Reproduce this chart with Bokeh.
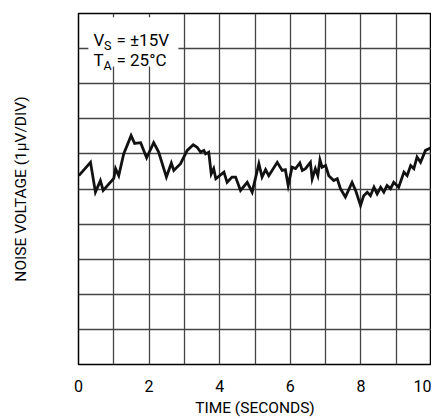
from bokeh.plotting import figure
from bokeh.models import FixedTicker, Range1d, Label
from bokeh.embed import file_html
from bokeh.resources import INLINE

# Data (seconds, microvolts relative to centre line)
time_s = [0.01, 0.34, 0.48, 0.62, 0.70, 1.00, 1.05, 1.14, 1.28, 1.49, 1.59, 1.76, 1.93,
          2.13, 2.27, 2.49, 2.63, 2.70, 2.89, 3.08, 3.25, 3.36, 3.46, 3.55, 3.60, 3.69,
          3.76, 3.83, 3.89, 4.12, 4.21, 4.35, 4.45, 4.59, 4.78, 4.92, 5.11, 5.20, 5.30,
          5.39, 5.63, 5.77, 5.86, 5.94, 6.05, 6.15, 6.27, 6.34, 6.43, 6.57, 6.62, 6.71,
          6.78, 6.84, 6.90, 7.00, 7.09, 7.23, 7.33, 7.42, 7.56, 7.75, 7.85, 7.99, 8.08,
          8.18, 8.27, 8.37, 8.46, 8.56, 8.65, 8.74, 8.84, 8.93, 9.07, 9.22, 9.31, 9.41,
          9.50, 9.59, 9.69, 9.83, 9.97]
noise_uv = [0.38, 0.76, -0.09, 0.24, -0.04, 0.30, 0.58, 0.38, 1.00, 1.52, 1.30, 1.32, 0.89,
            1.32, 1.05, 0.34, 0.74, 0.53, 0.72, 1.10, 1.26, 1.19, 1.05, 1.10, 1.00, 1.05,
            0.43, 0.58, 0.29, 0.48, 0.19, 0.34, 0.34, -0.04, 0.19, -0.09, 0.72, 0.34, 0.55,
            0.38, 0.76, 0.53, 0.55, 0.10, 0.62, 0.58, 0.74, 0.53, 0.58, 0.76, 0.29, 0.58,
            0.38, 0.83, 0.62, 0.67, 0.38, 0.24, 0.29, 0.01, -0.23, 0.19, -0.04, -0.47, -0.19,
            -0.09, -0.19, 0.05, -0.14, 0.05, -0.09, 0.10, 0.01, 0.19, 0.05, 0.48, 0.38, 0.67,
            0.58, 0.91, 0.76, 1.10, 1.17]

x_label_ticks = [0, 2, 4, 6, 8, 10]
x_grid_ticks = [0, 1, 2, 3, 4, 5, 6, 7, 8, 9, 10]
y_grid_ticks = [-5, -4, -3, -2, -1, 0, 1, 2, 3, 4, 5]

FONT = "Roboto"

p = figure(frame_width=353, frame_height=351, output_backend="svg", toolbar_location=None,
           x_range=Range1d(0, 10), y_range=Range1d(-5, 5),
           min_border_left=78, min_border_right=0, min_border_top=13, min_border_bottom=55)
p.background_fill_color = "white"
p.border_fill_color = "white"
p.outline_line_color = "black"
p.outline_line_width = 1.5
p.outline_line_alpha = 1.0

for g, t in ((p.xgrid, x_grid_ticks), (p.ygrid, y_grid_ticks)):
    g.ticker = FixedTicker(ticks=t)
    g.grid_line_color = "#444444"
    g.grid_line_width = 1.3
    g.grid_line_alpha = 1.0

xa = p.xaxis[0]
xa.ticker = FixedTicker(ticks=x_label_ticks)
xa.axis_line_color = None
xa.major_tick_line_color = None
xa.minor_tick_line_color = None
xa.major_label_standoff = 9
xa.major_label_text_font = FONT
xa.major_label_text_font_size = "16px"
xa.major_label_text_color = "black"
xa.axis_label = "TIME (SECONDS)"
xa.axis_label_text_font = FONT
xa.axis_label_text_font_size = "15.5px"
xa.axis_label_text_font_style = "normal"
xa.axis_label_text_color = "black"
xa.axis_label_standoff = 4

ya = p.yaxis[0]
ya.ticker = FixedTicker(ticks=[])
ya.axis_line_color = None
ya.major_tick_line_color = None
ya.minor_tick_line_color = None
ya.major_label_text_font_size = "0px"
ya.axis_label = "NOISE VOLTAGE (1µV/DIV)"
ya.axis_label_text_font = FONT
ya.axis_label_text_font_size = "15.5px"
ya.axis_label_text_font_style = "normal"
ya.axis_label_text_color = "black"
ya.axis_label_standoff = 49

# white box behind the conditions text
p.quad(left=0.28, right=2.83, bottom=3.49, top=4.89, fill_color="white", line_color=None)

p.line(time_s, noise_uv, line_color="#111111", line_width=2.8, line_join="miter")

def lab(x, y, text, size):
    p.add_layout(Label(x=x, y=y, text=text, text_font=FONT, text_font_size=size,
                       text_baseline="alphabetic", text_align="left", text_color="black"))

lab(0.425, 4.24, "V", "17px")
lab(0.725, 4.10, "S", "12.5px")
lab(1.076, 4.24, "= ±15V", "17px")
lab(0.425, 3.67, "T", "17px")
lab(0.705, 3.53, "A", "12.5px")
lab(1.076, 3.67, "= 25°C", "17px")

open("out.html", "w").write(file_html(p, INLINE))
